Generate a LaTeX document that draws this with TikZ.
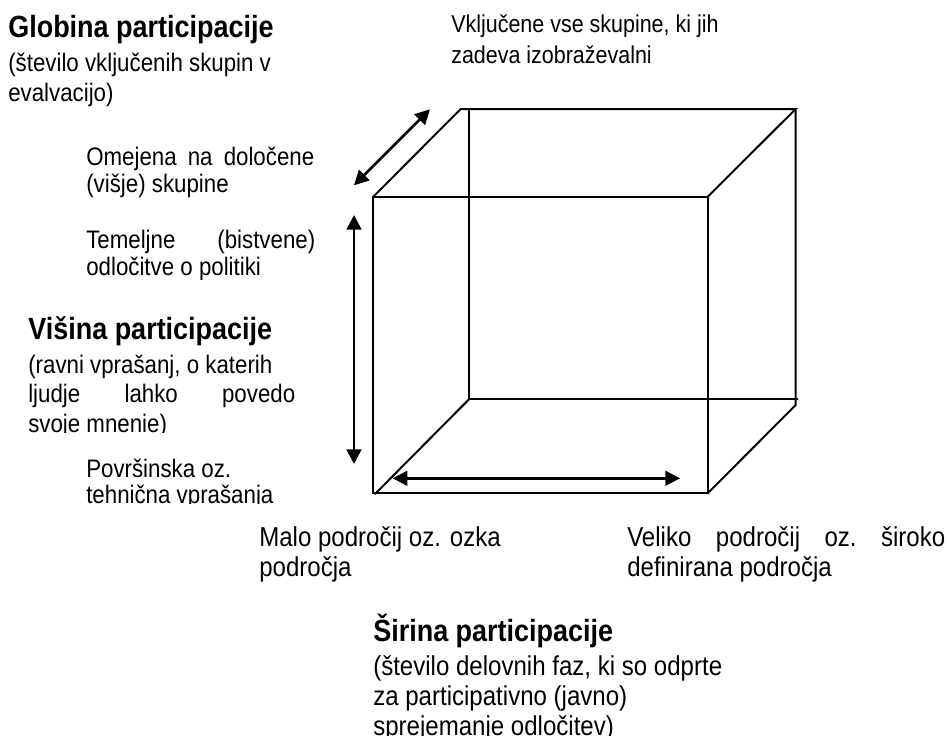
\documentclass[tikz,border=0pt]{standalone}
\usepackage{fontspec}
\setmainfont[FakeStretch=0.88]{Liberation Sans}
\usetikzlibrary{arrows.meta}
\tikzset{
  body/.style={anchor=base west, inner sep=0pt, font=\fontsize{19}{22}\selectfont},
  bodys/.style={anchor=base west, inner sep=0pt, font=\fontsize{18.3}{22}\selectfont},
  bodyl/.style={anchor=base west, inner sep=0pt, font=\fontsize{20.5}{24}\selectfont},
  head/.style={anchor=base west, inner sep=0pt, font=\fontsize{23}{26}\selectfont\bfseries},
  edge/.style={line width=1.5pt, line cap=round},
  dimarrow/.style={line width=2pt, {Triangle[length=11pt,width=11pt]}-{Triangle[length=11pt,width=11pt]}},
}
\begin{document}
\begin{tikzpicture}[x=0.75pt,y=-0.75pt]
\useasboundingbox (0,0) rectangle (949,746);
% cube corners
\coordinate (f1) at (373.3,196.7);
\coordinate (f2) at (707.7,196.7);
\coordinate (f3) at (707.7,493.3);
\coordinate (f4) at (373.3,493.3);
\coordinate (b1) at (460.7,109);
\coordinate (b1v) at (469.3,109);
\coordinate (b2) at (795.7,109);
\coordinate (b2v) at (795.7,405);
\coordinate (b4) at (469.3,399);
\coordinate (b3) at (797.3,399);
\coordinate (f4d) at (375,494);
% front face
\draw[edge] (f1) -- (f2) -- (f3) -- (f4) -- cycle;
% back edges
\draw[edge] (f1) -- (b1) -- (b2) -- (f2);
\draw[edge] (b1v) -- (b4) -- (b3);
\draw[edge] (b2) -- (b2v) -- (f3);
\draw[edge] (f4d) -- (b4);
% arrows
\coordinate (dA) at (354,185.3);
\coordinate (dB) at (430,109.3);
\coordinate (vA) at (354,215);
\coordinate (vB) at (354,464);
\coordinate (hA) at (392.7,478.3);
\coordinate (hB) at (680,478.3);
\draw[dimarrow] (dA) -- (dB);
\draw[dimarrow] (vA) -- (vB);
\draw[dimarrow] (hA) -- (hB);
% Globina
\node[head] (gh) at (8,37) {Globina participacije};
\node[body] (g1) at (8,71.5) {(število vključenih skupin v};
\node[body] (g2) at (8,101.5) {evalvacijo)};
% top right
\node[bodys] (t1) at (451,32) {Vključene vse skupine, ki jih};
\node[bodys] (t2) at (451,63) {zadeva izobraževalni};
% Omejena
\begin{scope}
\clip (0,120) rectangle (340,197);
\node[body] (o1) at (86,165) {\hbox to 171pt{Omejena\hfill na\hfill določene}};
\node[body] (o2) at (86,192) {(višje) skupine};
\end{scope}
% Temeljne
\begin{scope}
\clip (0,210) rectangle (340,279);
\node[body] (m1) at (86,248) {\hbox to 171.75pt{Temeljne\hfill (bistvene)}};
\node[body] (m2) at (86,275) {odločitve o politiki};
\end{scope}
% Visina
\begin{scope}
\clip (0,300) rectangle (340,432.2);
\node[head] (vh) at (28,339) {Višina participacije};
\node[body] (v1) at (28,373) {(ravni vprašanj, o katerih};
\node[body] (v2) at (28,402) {\hbox to 200.25pt{ljudje\hfill lahko\hfill povedo}};
\node[body] (v3) at (28,432) {svoje mnenie)};
\end{scope}
% Povrsinska
\begin{scope}
\clip (0,445) rectangle (340,503.2);
\node[body] (p1) at (86,477) {Površinska oz.};
\node[body] (p2) at (86,503) {tehnična vprašanja};
\end{scope}
% bottom labels
\node[bodyl] (l1) at (259,546) {Malo področij oz. ozka};
\node[bodyl] (l2) at (259,576) {področja};
\node[bodyl] (r1) at (627,546) {\hbox to 238.5pt{Veliko\hfill področij\hfill oz.\hfill široko}};
\node[bodyl] (r2) at (627,576) {definirana področja};
% Sirina
\begin{scope}
\clip (300,600) rectangle (800,735.2);
\node[head] (sh) at (373,641) {Širina participacije};
\node[bodyl] (s1) at (373,675) {(število delovnih faz, ki so odprte};
\node[bodyl] (s2) at (373,705) {za participativno (javno)};
\node[bodyl] (s3) at (373,735) {sprejemanje odločitev)};
\end{scope}
\end{tikzpicture}
\end{document}
